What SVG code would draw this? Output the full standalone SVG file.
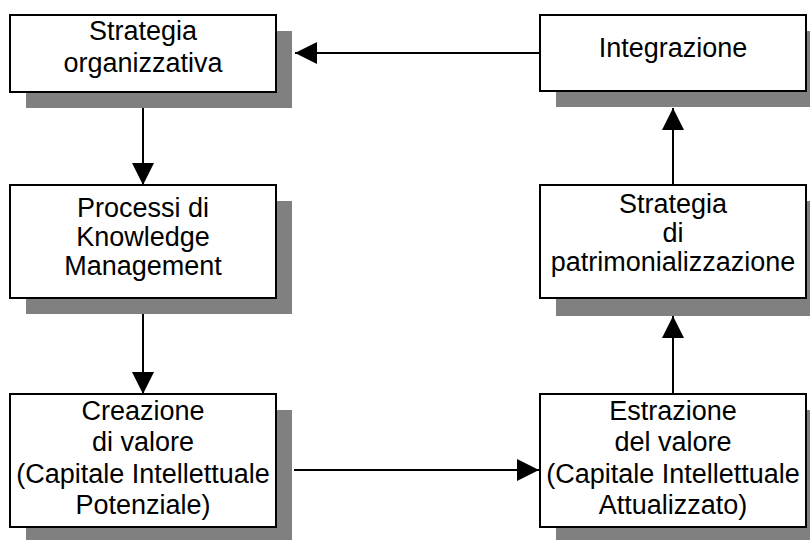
<svg xmlns="http://www.w3.org/2000/svg" width="810" height="540" viewBox="0 0 810 540">
<style>
.shadow{fill:#808080;stroke:none}
.box{fill:#fff;stroke:#000;stroke-width:2}
.t{font-family:"Liberation Sans",Arial,sans-serif;font-size:27px;fill:#000;text-anchor:middle}
.c{stroke:#000;stroke-width:2;fill:none}
</style>
<defs>
<marker id="ah" markerUnits="userSpaceOnUse" markerWidth="22" markerHeight="22" refX="22" refY="11" orient="auto">
<path d="M0,0 L22,11 L0,22 Z" fill="#000"/>
</marker>
</defs>
<rect width="810" height="540" fill="#fff"/>
<g id="connectors">
<line class="c" x1="540" y1="53" x2="295" y2="53" marker-end="url(#ah)"/>
<line class="c" x1="143" y1="108" x2="143" y2="185" marker-end="url(#ah)"/>
<line class="c" x1="143" y1="314" x2="143" y2="394" marker-end="url(#ah)"/>
<line class="c" x1="294" y1="470" x2="539" y2="470" marker-end="url(#ah)"/>
<line class="c" x1="673" y1="394" x2="673" y2="316" marker-end="url(#ah)"/>
<line class="c" x1="673" y1="185" x2="673" y2="108" marker-end="url(#ah)"/>
</g>
<g id="n1">
<rect class="shadow" x="26" y="31" width="266" height="77"/>
<rect class="box" x="10" y="15" width="266" height="77"/>
<text class="t" x="143" y="40">Strategia</text>
<text class="t" x="143" y="72">organizzativa</text>
</g>
<g id="n2">
<rect class="shadow" x="556" y="31" width="266" height="76"/>
<rect class="box" x="540" y="15" width="266" height="76"/>
<text class="t" x="673" y="57">Integrazione</text>
</g>
<g id="n3">
<rect class="shadow" x="26" y="201" width="266" height="113"/>
<rect class="box" x="10" y="185" width="266" height="113"/>
<text class="t" x="143" y="217">Processi di</text>
<text class="t" x="143" y="246">Knowledge</text>
<text class="t" x="143" y="275">Management</text>
</g>
<g id="n4">
<rect class="shadow" x="556" y="201" width="266" height="115"/>
<rect class="box" x="540" y="185" width="266" height="113"/>
<text class="t" x="673" y="213">Strategia</text>
<text class="t" x="673" y="242">di</text>
<text class="t" x="673" y="271">patrimonializzazione</text>
</g>
<g id="n5">
<rect class="shadow" x="26" y="410" width="266" height="133"/>
<rect class="box" x="10" y="394" width="266" height="133"/>
<text class="t" x="143" y="420">Creazione</text>
<text class="t" x="143" y="451">di valore</text>
<text class="t" x="143" y="483">(Capitale Intellettuale</text>
<text class="t" x="143" y="514">Potenziale)</text>
</g>
<g id="n6">
<rect class="shadow" x="556" y="410" width="266" height="133"/>
<rect class="box" x="540" y="394" width="266" height="133"/>
<text class="t" x="673" y="420">Estrazione</text>
<text class="t" x="673" y="451">del valore</text>
<text class="t" x="673" y="483">(Capitale Intellettuale</text>
<text class="t" x="673" y="514">Attualizzato)</text>
</g>
</svg>
